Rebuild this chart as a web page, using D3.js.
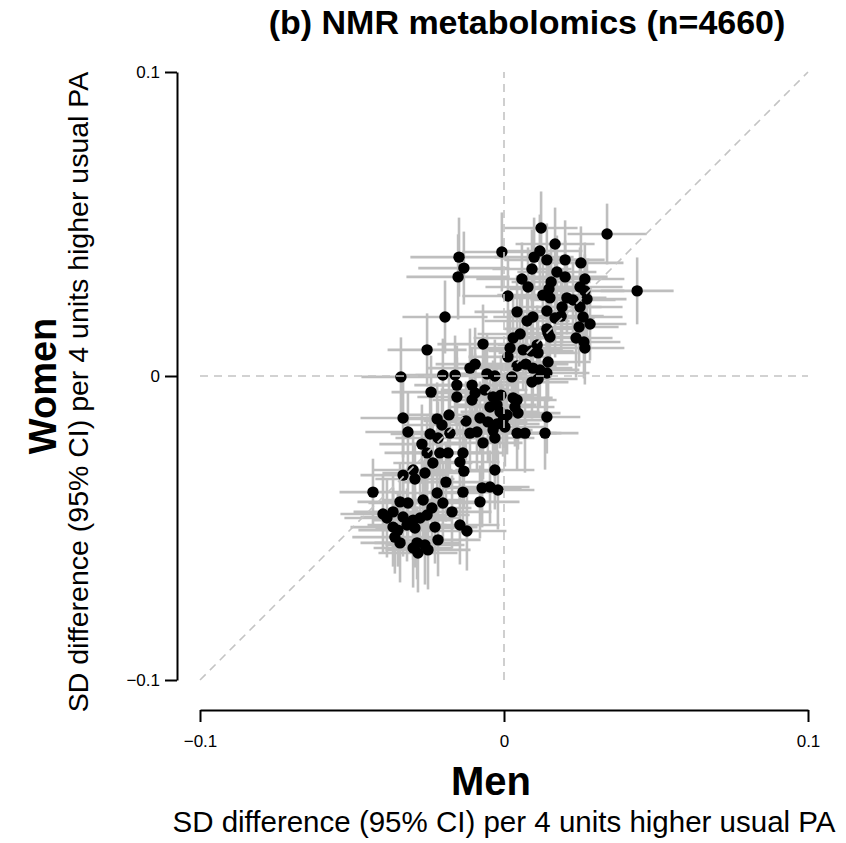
<!DOCTYPE html>
<html><head><meta charset="utf-8">
<script src="https://cdn.jsdelivr.net/npm/d3@7"></script>
<style>body{margin:0;background:#fff}svg{display:block}text{font-family:"Liberation Sans",Arial,sans-serif}</style>
</head><body>
<svg id="c" width="846" height="843"></svg>
<script>
const titleText = "(b) NMR metabolomics (n=4660)";
const xLabel = "Men", yLabel = "Women";
const axisSub = "SD difference (95% CI) per 4 units higher usual PA";
const tickVals = [-0.1, 0, 0.1];
const tickLabels = ["\u22120.1", "0", "0.1"];

// point estimates (SD difference) for men (x) and women (y)
const men = [
-0.0148,-0.0132,-0.0151,-0.0194,-0.0007,
0.0122,0.0339,0.0168,0.0118,0.0099,
0.0141,0.0201,0.0253,0.0092,0.0174,
0.0201,0.0155,0.0059,0.0079,0.0266,
0.0250,0.0266,0.0148,0.0128,0.0151,
0.0013,0.0207,0.0227,0.0273,0.0191,
0.0250,0.0438,0.0141,0.0043,0.0095,
0.0076,0.0168,0.0188,0.0260,0.0247,
0.0283,0.0141,0.0053,0.0030,0.0145,
0.0151,0.0237,0.0266,0.0263,
0.0020,0.0063,0.0089,0.0112,0.0109,
0.0013,0.0145,0.0043,0.0072,0.0095,
0.0118,0.0141,0.0026,0.0092,0.0112,
-0.0056,-0.0030,-0.0069,-0.0253,-0.0112,
-0.0095,-0.0339,-0.0201,-0.0161,
-0.0155,-0.0240,-0.0155,-0.0105,-0.0095,
-0.0105,-0.0063,-0.0036,-0.0010,-0.0046,
-0.0023,-0.0013,-0.0332,-0.0220,-0.0181,
-0.0204,-0.0125,-0.0079,-0.0053,-0.0023,
-0.0003,-0.0316,-0.0243,-0.0217,-0.0178,
-0.0112,-0.0089,-0.0069,-0.0030,-0.0270,
0.0030,0.0036,0.0046,0.0010,0.0141,
0.0003,0.0043,0.0069,0.0135,-0.0036,
0.0043,-0.0030,
-0.0135,-0.0253,-0.0211,-0.0184,-0.0234,
-0.0145,-0.0132,-0.0332,-0.0299,-0.0260,
-0.0293,-0.0431,-0.0191,-0.0135,-0.0072,
-0.0046,-0.0020,-0.0079,-0.0342,-0.0316,
-0.0266,-0.0220,-0.0201,-0.0171,-0.0385,
-0.0365,-0.0332,-0.0299,-0.0253,-0.0237,
-0.0293,-0.0227,-0.0145,-0.0122,-0.0359,
-0.0342,-0.0286,-0.0260,-0.0283,-0.0217,
-0.0319,-0.0365,-0.0276,-0.0299,-0.0250,
-0.0349,-0.0398];

const women = [
0.0391,0.0355,0.0326,0.0194,0.0408,
0.0487,0.0467,0.0434,0.0411,0.0391,
0.0382,0.0382,0.0372,0.0352,0.0342,
0.0326,0.0309,0.0319,0.0293,0.0319,
0.0293,0.0280,0.0286,0.0266,0.0257,
0.0263,0.0257,0.0250,0.0253,0.0227,
0.0227,0.0280,0.0214,0.0211,0.0194,
0.0181,0.0191,0.0197,0.0194,0.0161,
0.0171,0.0155,0.0138,0.0125,0.0141,
0.0128,0.0125,0.0092,0.0112,
0.0092,0.0086,0.0082,0.0076,0.0102,
0.0063,0.0046,0.0033,0.0039,0.0026,
0.0020,0.0010,-0.0003,-0.0020,-0.0010,
0.0007,0.0000,0.0105,0.0086,0.0026,
0.0039,-0.0003,0.0003,0.0003,
-0.0030,-0.0053,-0.0069,-0.0030,-0.0056,
-0.0079,-0.0046,-0.0069,-0.0063,-0.0102,
-0.0095,-0.0118,-0.0138,-0.0141,-0.0128,
-0.0161,-0.0148,-0.0138,-0.0151,-0.0158,
-0.0145,-0.0184,-0.0191,-0.0204,-0.0188,
-0.0188,-0.0184,-0.0220,-0.0204,-0.0224,
-0.0072,-0.0102,-0.0122,-0.0128,-0.0135,
-0.0168,-0.0188,-0.0188,-0.0188,-0.0178,
-0.0079,-0.0309,
-0.0253,-0.0253,-0.0253,-0.0253,-0.0286,
-0.0283,-0.0313,-0.0326,-0.0309,-0.0319,
-0.0339,-0.0382,-0.0349,-0.0382,-0.0368,
-0.0365,-0.0375,-0.0414,-0.0414,-0.0418,
-0.0408,-0.0385,-0.0418,-0.0447,-0.0467,
-0.0447,-0.0464,-0.0474,-0.0457,-0.0434,
-0.0500,-0.0497,-0.0490,-0.0510,-0.0530,
-0.0549,-0.0549,-0.0556,-0.0582,-0.0539,
-0.0490,-0.0497,-0.0467,-0.0566,-0.0572,
-0.0507,-0.0454];

// half-widths of the 95% CIs
const menHalf = [
0.016,0.015,0.017,0.014,0.013, 0.012,0.013,0.013,0.014,0.013,
0.014,0.013,0.014,0.013,0.013, 0.014,0.013,0.015,0.014,0.013,
0.014,0.013,0.013,0.015,0.014, 0.015,0.013,0.014,0.013,0.013,
0.014,0.012,0.013,0.014,0.013, 0.014,0.013,0.014,0.013,0.013,
0.012,0.014,0.014,0.013,0.013, 0.013,0.012,0.013,0.012,
0.013,0.013,0.014,0.013,0.013, 0.013,0.014,0.013,0.014,0.013,
0.013,0.014,0.013,0.012,0.013, 0.013,0.014,0.015,0.013,0.014,
0.013,0.013,0.014,0.013,
0.014,0.013,0.013,0.014,0.013, 0.013,0.014,0.013,0.012,0.013,
0.013,0.013,0.014,0.013,0.014, 0.013,0.014,0.013,0.013,0.014,
0.013,0.014,0.013,0.014,0.013, 0.013,0.014,0.013,0.013,0.014,
0.013,0.013,0.014,0.013,0.011, 0.013,0.013,0.012,0.011,0.013,
0.013,0.013,
0.013,0.014,0.013,0.014,0.013, 0.013,0.013,0.014,0.013,0.014,
0.013,0.011,0.014,0.013,0.013, 0.013,0.012,0.013,0.014,0.013,
0.013,0.014,0.013,0.013,0.014, 0.013,0.014,0.013,0.014,0.013,
0.013,0.014,0.013,0.013,0.014, 0.013,0.014,0.013,0.013,0.014,
0.013,0.014,0.013,0.013,0.014, 0.013,0.014];

const womenHalf = [
0.013,0.012,0.014,0.012,0.013, 0.012,0.010,0.012,0.012,0.013,
0.012,0.013,0.012,0.013,0.012, 0.012,0.013,0.012,0.013,0.012,
0.013,0.012,0.012,0.013,0.012, 0.013,0.012,0.012,0.013,0.012,
0.012,0.011,0.013,0.012,0.013, 0.012,0.013,0.012,0.012,0.013,
0.012,0.013,0.012,0.013,0.012, 0.012,0.013,0.012,0.012,
0.012,0.013,0.012,0.012,0.013, 0.012,0.013,0.012,0.012,0.013,
0.012,0.012,0.013,0.012,0.012, 0.013,0.012,0.013,0.012,0.013,
0.012,0.013,0.012,0.013,
0.013,0.012,0.013,0.012,0.013, 0.012,0.013,0.012,0.013,0.012,
0.013,0.012,0.013,0.012,0.013, 0.012,0.013,0.012,0.013,0.012,
0.012,0.013,0.013,0.012,0.013, 0.012,0.013,0.012,0.013,0.013,
0.012,0.013,0.012,0.013,0.012, 0.013,0.012,0.013,0.012,0.012,
0.012,0.013,
0.013,0.012,0.013,0.012,0.013, 0.013,0.012,0.013,0.012,0.013,
0.012,0.011,0.013,0.012,0.013, 0.012,0.013,0.012,0.013,0.012,
0.013,0.012,0.013,0.012,0.013, 0.012,0.013,0.013,0.012,0.013,
0.013,0.012,0.013,0.013,0.012, 0.013,0.012,0.013,0.013,0.012,
0.012,0.013,0.012,0.013,0.013, 0.012,0.013];

const data = men.map((m, i) => ({m, w: women[i], mh: menHalf[i], wh: womenHalf[i]}));

const svg = d3.select("#c");
const x = d3.scaleLinear().domain([-0.1, 0.1]).range([200, 808]);
const y = d3.scaleLinear().domain([-0.1, 0.1]).range([680, 72]);
const grey = "#bebebe";

// error bars
const eb = svg.append("g").attr("stroke", grey).attr("stroke-width", 2.6);
eb.selectAll("line.h").data(data).join("line").attr("class", "h")
  .attr("x1", d => x(d.m - d.mh)).attr("x2", d => x(d.m + d.mh))
  .attr("y1", d => y(d.w)).attr("y2", d => y(d.w));
eb.selectAll("line.v").data(data).join("line").attr("class", "v")
  .attr("x1", d => x(d.m)).attr("x2", d => x(d.m))
  .attr("y1", d => y(d.w - d.wh)).attr("y2", d => y(d.w + d.wh));

// points
svg.append("g").selectAll("circle").data(data).join("circle")
  .attr("cx", d => x(d.m)).attr("cy", d => y(d.w)).attr("r", 5.7).attr("fill", "#000");

// reference lines
const ref = svg.append("g").attr("stroke", "#c4c4c4").attr("stroke-width", 1.6)
  .attr("stroke-dasharray", "8,6").attr("fill", "none");
ref.append("line").attr("x1", x(0)).attr("x2", x(0)).attr("y1", y(-0.1)).attr("y2", y(0.1));
ref.append("line").attr("x1", x(-0.1)).attr("x2", x(0.1)).attr("y1", y(0)).attr("y2", y(0));
ref.append("line").attr("x1", x(-0.1)).attr("x2", x(0.1)).attr("y1", y(-0.1)).attr("y2", y(0.1));

// axes
const fmt = d => tickLabels[tickVals.indexOf(d)];
const yAxis = d3.axisLeft(y).tickValues(tickVals).tickFormat(fmt).tickSize(12).tickSizeOuter(0).tickPadding(5);
const gy = svg.append("g").attr("transform", "translate(177,0)").call(yAxis);
const xAxis = d3.axisBottom(x).tickValues(tickVals).tickFormat(fmt).tickSize(12).tickSizeOuter(0).tickPadding(13);
const gx = svg.append("g").attr("transform", "translate(0,710)").call(xAxis);
[gx, gy].forEach(g => {
  g.select(".domain").attr("stroke", "#000").attr("stroke-width", 2);
  g.selectAll(".tick line").attr("stroke", "#000").attr("stroke-width", 2);
  g.selectAll(".tick text").attr("fill", "#000").style("font-size", "17px")
    .style("font-family", '"Liberation Sans", Arial, sans-serif');
});

// titles
svg.append("text").attr("x", 527).attr("y", 34).attr("text-anchor", "middle")
  .style("font-size", "34px").style("font-weight", "bold").text(titleText);
svg.append("text").attr("x", 491).attr("y", 795).attr("text-anchor", "middle")
  .style("font-size", "40px").style("font-weight", "bold").text(xLabel);
svg.append("text").attr("x", 504).attr("y", 832).attr("text-anchor", "middle")
  .style("font-size", "29.5px").text(axisSub);
svg.append("text").attr("transform", "translate(56,386) rotate(-90)").attr("text-anchor", "middle")
  .style("font-size", "38px").style("font-weight", "bold").text(yLabel);
svg.append("text").attr("transform", "translate(88,392) rotate(-90)").attr("text-anchor", "middle")
  .style("font-size", "28.5px").text(axisSub);
</script>
</body></html>
